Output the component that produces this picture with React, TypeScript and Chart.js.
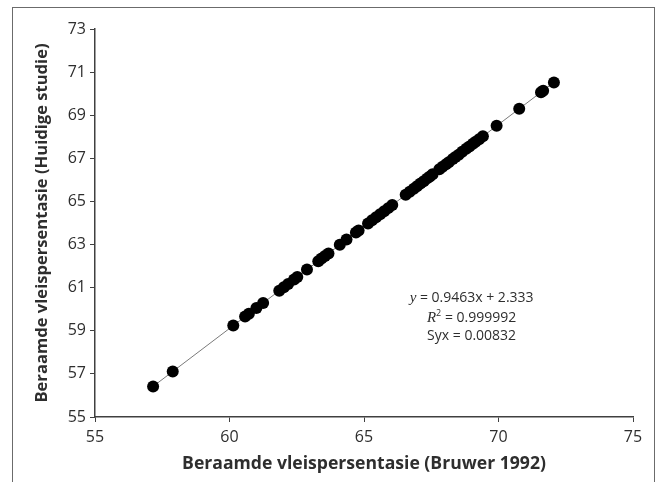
import React, { useEffect, useRef } from "react";
import { Chart, registerables } from "chart.js";

Chart.register(...registerables);

const xValues = [
  57.16, 57.89, 60.14, 60.58, 60.72, 61.0, 61.25, 61.85, 62.02, 62.18, 62.4, 62.52, 62.88,
  63.3, 63.42, 63.55, 63.68, 64.1, 64.35, 64.7, 64.8, 65.15, 65.3, 65.45, 65.6, 65.75, 65.9,
  66.05, 66.55, 66.7, 66.85, 66.97, 67.1, 67.22, 67.35, 67.45, 67.55, 67.8, 67.92, 68.05,
  68.15, 68.3, 68.4, 68.52, 68.65, 68.8, 68.92, 69.05, 69.15, 69.28, 69.42, 69.93, 70.77,
  71.58, 71.66, 72.06,
];
const yValues = [
  56.42, 57.11, 59.24, 59.66, 59.79, 60.06, 60.29, 60.86, 61.02, 61.17, 61.38, 61.5, 61.84,
  62.23, 62.35, 62.47, 62.59, 62.99, 63.23, 63.56, 63.65, 63.98, 64.13, 64.27, 64.41, 64.55, 64.69,
  64.84, 65.31, 65.45, 65.59, 65.71, 65.83, 65.94, 66.07, 66.16, 66.26, 66.49, 66.61, 66.73,
  66.82, 66.97, 67.06, 67.17, 67.3, 67.44, 67.55, 67.68, 67.77, 67.89, 68.02, 68.51, 69.3,
  70.07, 70.14, 70.52,
];
const fitLineX = [57.16, 72.06];
const fitLineY = [56.42, 70.52];

const xTitle = "Beraamde vleispersentasie (Bruwer 1992)";
const yTitle = "Beraamde vleispersentasie (Huidige studie)";
const eqSlope = "0.9463x + 2.333";
const eqR2 = "0.999992";
const eqSyx = "0.00832";

const SANS = "'Open Sans', 'Noto Sans', sans-serif";
const SERIF = "'Liberation Serif', 'DejaVu Serif', serif";
const TEXT = "#2e2e2e";
const AXIS = "#404040";

type Part = { t: string; font: string; dy?: number };

function drawParts(ctx: CanvasRenderingContext2D, parts: Part[], cx: number, cy: number) {
  let total = 0;
  for (const p of parts) {
    ctx.font = p.font;
    total += ctx.measureText(p.t).width;
  }
  let x = cx - total / 2;
  for (const p of parts) {
    ctx.font = p.font;
    ctx.fillText(p.t, x, cy + (p.dy || 0));
    x += ctx.measureText(p.t).width;
  }
}

const textPlugin = {
  id: "textPlugin",
  afterDraw(chart: any) {
    const ctx: CanvasRenderingContext2D = chart.ctx;
    const { chartArea, scales } = chart;
    ctx.save();
    ctx.fillStyle = TEXT;
    ctx.textBaseline = "middle";
    ctx.textAlign = "left";

    // annotation
    const ax = scales.x.getPixelForValue(69.0);
    const ay = scales.y.getPixelForValue(59.6);
    drawParts(ctx, [
      { t: "y", font: `italic 15px ${SERIF}` },
      { t: " = " + eqSlope, font: `14px ${SANS}` },
    ], ax, ay - 20);
    drawParts(ctx, [
      { t: "R", font: `italic 15px ${SERIF}` },
      { t: "2", font: `9px ${SANS}`, dy: -4 },
      { t: " = " + eqR2, font: `14px ${SANS}` },
    ], ax, ay);
    drawParts(ctx, [{ t: "Syx = " + eqSyx, font: `14px ${SANS}` }], ax, ay + 18);

    // axis titles
    ctx.textAlign = "center";
    ctx.font = `bold 17.6px ${SANS}`;
    ctx.fillText(xTitle, (chartArea.left + chartArea.right) / 2, 464);
    ctx.save();
    ctx.translate(42, (chartArea.top + chartArea.bottom) / 2);
    ctx.rotate(-Math.PI / 2);
    ctx.font = `bold 16.6px ${SANS}`;
    ctx.fillText(yTitle, 0, 0);
    ctx.restore();
    ctx.restore();
  },
};

export default function App() {
  const ref = useRef<HTMLCanvasElement | null>(null);

  useEffect(() => {
    document.body.style.margin = "0";
    if (!ref.current) return;
    const points = xValues.map((x, i) => ({ x, y: yValues[i] }));
    const line = fitLineX.map((x, i) => ({ x, y: fitLineY[i] }));
    const tickFont = { family: SANS, size: 16 };
    const chart = new Chart(ref.current, {
      type: "scatter",
      data: {
        datasets: [
          {
            type: "line",
            data: line,
            borderColor: "#7a7a7a",
            borderWidth: 1,
            pointRadius: 0,
            fill: false,
            order: 2,
          } as any,
          {
            data: points,
            backgroundColor: "#000000",
            borderColor: "#000000",
            borderWidth: 0,
            pointRadius: 6,
            order: 1,
          },
        ],
      },
      options: {
        animation: false,
        responsive: false,
        devicePixelRatio: 1,
        layout: { padding: { top: 29, right: 27, left: 0, bottom: 0 } },
        plugins: { legend: { display: false }, tooltip: { enabled: false } },
        scales: {
          x: {
            type: "linear",
            min: 55,
            max: 75,
            ticks: { stepSize: 5, font: tickFont, color: TEXT, padding: 6 },
            grid: { drawOnChartArea: false, drawTicks: true, tickLength: 5, color: AXIS },
            border: { color: AXIS, width: 1.5 },
            afterFit: (s: any) => {
              s.height = 65;
            },
          },
          y: {
            type: "linear",
            min: 55,
            max: 73,
            ticks: { stepSize: 2, font: tickFont, color: TEXT, padding: 4 },
            grid: { drawOnChartArea: false, drawTicks: true, tickLength: 5, color: AXIS },
            border: { color: AXIS, width: 1.5 },
            afterFit: (s: any) => {
              s.width = 95;
            },
          },
        },
      },
      plugins: [textPlugin],
    });
    return () => chart.destroy();
  }, []);

  return (
    <div style={{ position: "fixed", left: 0, top: 0, width: 660, height: 482, background: "#fff" }}>
      <canvas ref={ref} width={660} height={482} style={{ position: "absolute", left: 0, top: 0 }} />
      <div
        style={{
          position: "absolute",
          left: 12,
          top: 7,
          width: 643,
          height: 520,
          border: "1px solid #6b6b6b",
          boxSizing: "border-box",
          pointerEvents: "none",
        }}
      />
    </div>
  );
}
